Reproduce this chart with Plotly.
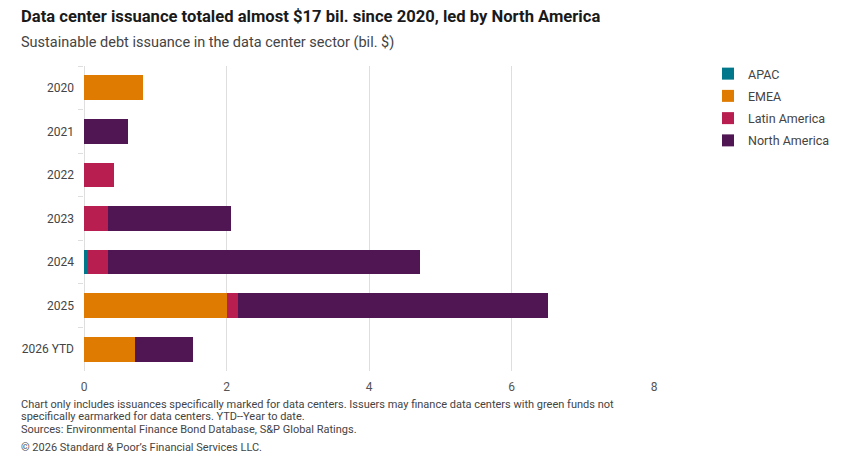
import plotly.graph_objects as go

categories = ["2020", "2021", "2022", "2023", "2024", "2025", "2026 YTD"]
apac = [0, 0, 0, 0, 0.05, 0, 0]
emea = [0.83, 0, 0, 0, 0, 2.01, 0.72]
latam = [0, 0, 0.42, 0.34, 0.29, 0.15, 0]
north_america = [0, 0.62, 0, 1.73, 4.38, 4.35, 0.81]
x_ticks = [0, 2, 4, 6, 8]

series = [
    ("APAC", apac, "#00778B"),
    ("EMEA", emea, "#DE7B00"),
    ("Latin America", latam, "#B81F50"),
    ("North America", north_america, "#501654"),
]

FONT = "Roboto"
fig = go.Figure()
for name, vals, color in series:
    fig.add_trace(go.Bar(
        y=categories, x=vals, name=name, orientation="h",
        marker=dict(color=color, line=dict(width=0)),
        width=0.57, legendgroup=name,
        hovertemplate=name + ": %{x}<extra></extra>",
    ))

L, R, T, B = 84, 199, 66, 88
W, H = 853, 459

def px_x(px):
    return (px - L) / (W - L - R)

def px_y(py):
    return (H - B - py) / (H - T - B)

anns = [
    dict(text="<b>Data center issuance totaled almost $17 bil. since 2020, led by North America</b>",
         x=px_x(19), y=px_y(16), font=dict(size=16.6, color="#1a1a1a", family=FONT)),
    dict(text="Sustainable debt issuance in the data center sector (bil. $)",
         x=px_x(19), y=px_y(42), font=dict(size=14.5, color="#444", family=FONT)),
    dict(text="Chart only includes issuances specifically marked for data centers. Issuers may finance data centers with green funds not",
         x=px_x(19), y=px_y(404), font=dict(size=11, color="#444", family=FONT)),
    dict(text="specifically earmarked for data centers. YTD--Year to date.",
         x=px_x(19), y=px_y(416.5), font=dict(size=11, color="#444", family=FONT)),
    dict(text="Sources: Environmental Finance Bond Database, S&P Global Ratings.",
         x=px_x(19), y=px_y(429), font=dict(size=11, color="#444", family=FONT)),
    dict(text="© 2026 Standard & Poor’s Financial Services LLC.",
         x=px_x(19), y=px_y(447), font=dict(size=11, color="#444", family=FONT)),
]
for a in anns:
    a.update(xref="paper", yref="paper", xanchor="left", yanchor="middle", showarrow=False)

fig.update_layout(
    barmode="stack",
    width=W, height=H,
    margin=dict(l=L, r=R, t=T, b=B),
    plot_bgcolor="white", paper_bgcolor="white",
    font=dict(family=FONT, color="#333"),
    showlegend=True,
    legend=dict(
        x=px_x(708), y=px_y(59), xanchor="left", yanchor="top",
        font=dict(size=12.5, color="#444", family=FONT),
        traceorder="grouped", itemwidth=30, tracegroupgap=3,
    ),
    xaxis=dict(
        range=[0, 8], tickvals=x_ticks, ticktext=[str(v) for v in x_ticks],
        showgrid=True, gridcolor="#dedede", gridwidth=1,
        zeroline=True, zerolinecolor="#dedede", zerolinewidth=1,
        tickfont=dict(size=12, color="#555", family=FONT),
        ticks="", ticklen=0, showline=False, ticklabelstandoff=7,
    ),
    yaxis=dict(
        categoryorder="array", categoryarray=categories, autorange="reversed",
        tickfont=dict(size=12, color="#444", family=FONT),
        ticks="outside", tickson="boundaries", ticklen=5, tickcolor="#dedede",
        ticklabelstandoff=9,
        showgrid=False, showline=False,
    ),
    annotations=anns,
)

fig.write_html("out.html")
